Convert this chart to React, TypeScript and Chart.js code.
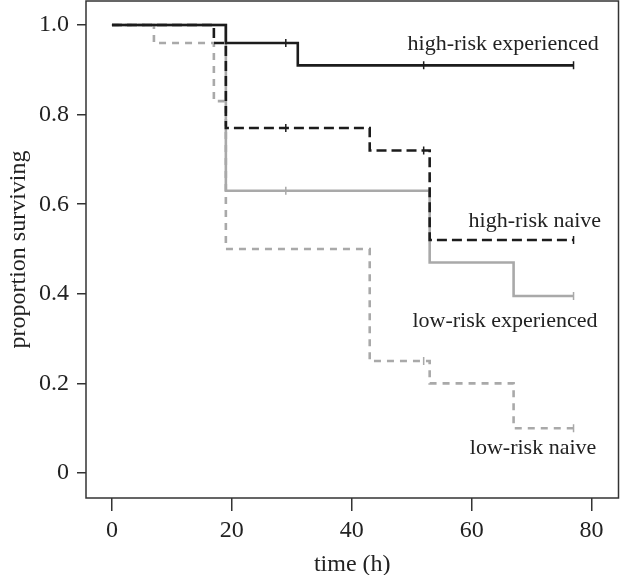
import React, { useEffect, useRef } from "react";
import { Chart, registerables } from "chart.js";

Chart.register(...registerables);

// ---- data ----
const heTimes = [0, 19, 31, 77];
const heSurv = [1.0, 0.96, 0.91, 0.91];
const heCensor = [29, 52, 77];

const hnTimes = [0, 17, 19, 43, 53, 77];
const hnSurv = [1.0, 0.96, 0.77, 0.72, 0.52, 0.52];
const hnCensor = [29, 52, 77];

const leTimes = [0, 19, 53, 67, 77];
const leSurv = [1.0, 0.63, 0.47, 0.395, 0.395];
const leCensor = [29, 77];

const lnTimes = [0, 7, 17, 19, 43, 53, 67, 77];
const lnSurv = [1.0, 0.96, 0.83, 0.5, 0.25, 0.2, 0.1, 0.1];
const lnCensor = [52, 77];

const xTickValues = [0, 20, 40, 60, 80];
const xTickLabels = ["0", "20", "40", "60", "80"];
const yTickValues = [0, 0.2, 0.4, 0.6, 0.8, 1.0];
const yTickLabels = ["0", "0.2", "0.4", "0.6", "0.8", "1.0"];

const seriesLabels = [
  "high-risk experienced",
  "high-risk naive",
  "low-risk experienced",
  "low-risk naive",
];
// annotation anchor points (data coordinates, right-aligned text)
const labelX = [81.2, 81.6, 81.0, 80.8];
const labelY = [0.958, 0.563, 0.338, 0.055];

const SERIF = "'Liberation Serif', 'DejaVu Serif', serif";
const BLACK = "#1c1c1c";
const GREY = "#a9a9a9";
const AXIS = "#333333";

function toPoints(times: number[], surv: number[]) {
  return times.map((t, i) => ({ x: t, y: surv[i] }));
}
function survAt(times: number[], surv: number[], t: number) {
  let v = surv[0];
  for (let i = 0; i < times.length; i++) if (times[i] <= t) v = surv[i];
  return v;
}
function censorPoints(times: number[], surv: number[], c: number[]) {
  return c.map((t) => ({ x: t, y: survAt(times, surv, t) }));
}

const boxPlugin = {
  id: "boxAndLabels",
  afterDatasetsDraw(chart: any) {
    const { ctx, chartArea, scales } = chart;
    ctx.save();
    ctx.strokeStyle = AXIS;
    ctx.lineWidth = 1.5;
    ctx.strokeRect(
      chartArea.left,
      chartArea.top,
      chartArea.right - chartArea.left,
      chartArea.bottom - chartArea.top
    );
    ctx.fillStyle = "#222";
    ctx.font = `22px ${SERIF}`;
    ctx.textAlign = "right";
    ctx.textBaseline = "middle";
    seriesLabels.forEach((s, i) => {
      ctx.fillText(s, scales.x.getPixelForValue(labelX[i]), scales.y.getPixelForValue(labelY[i]));
    });
    ctx.restore();
  },
};

export default function App() {
  const ref = useRef<HTMLCanvasElement | null>(null);
  useEffect(() => {
    document.body.style.margin = "0";
    if (!ref.current) return;
    const lineDs = (label: string, times: number[], surv: number[], color: string, dash: number[], order: number) => ({
      type: "line" as const,
      label,
      data: toPoints(times, surv),
      borderColor: color,
      borderWidth: 2.6,
      borderDash: dash,
      stepped: "before" as const,
      pointRadius: 0,
      fill: false,
      order,
    });
    const censorDs = (times: number[], surv: number[], c: number[], color: string, order: number) => ({
      type: "scatter" as const,
      data: censorPoints(times, surv, c),
      pointStyle: "line",
      rotation: 90,
      pointRadius: 4,
      pointBorderWidth: 1.5,
      borderColor: color,
      backgroundColor: color,
      showLine: false,
      order,
    });
    const chart = new Chart(ref.current, {
      type: "line",
      data: {
        datasets: [
          lineDs(seriesLabels[0], heTimes, heSurv, BLACK, [], 1),
          censorDs(heTimes, heSurv, heCensor, BLACK, 0),
          lineDs(seriesLabels[1], hnTimes, hnSurv, BLACK, [10, 5], 2),
          censorDs(hnTimes, hnSurv, hnCensor, BLACK, 0),
          lineDs(seriesLabels[2], leTimes, leSurv, GREY, [], 4),
          censorDs(leTimes, leSurv, leCensor, GREY, 3),
          lineDs(seriesLabels[3], lnTimes, lnSurv, GREY, [7, 6], 5),
          censorDs(lnTimes, lnSurv, lnCensor, GREY, 3),
        ] as any,
      },
      options: {
        animation: false,
        responsive: true,
        maintainAspectRatio: false,
        layout: { autoPadding: false, padding: { top: 1, right: 1.5, left: 0, bottom: 0 } },
        plugins: { legend: { display: false }, tooltip: { enabled: false } },
        scales: {
          x: {
            type: "linear",
            min: -4.33,
            max: 84.5,
            afterFit: (s: any) => {
              s.height = 77;
              s.paddingLeft = 0;
              s.paddingRight = 0;
            },
            afterBuildTicks: (s: any) => {
              s.ticks = xTickValues.map((v) => ({ value: v }));
            },
            ticks: {
              callback: (v: any) => xTickLabels[xTickValues.indexOf(Number(v))] ?? "",
              font: { family: SERIF, size: 24 },
              color: "#222",
              padding: 5,
              maxRotation: 0,
            },
            grid: { drawOnChartArea: false, drawTicks: true, tickLength: 13, color: AXIS, lineWidth: 1.5 },
            border: { display: false },
            title: {
              display: true,
              text: "time (h)",
              font: { family: SERIF, size: 24, lineHeight: 1 },
              color: "#222",
              padding: { top: 0, bottom: -2 },
            },
          },
          y: {
            type: "linear",
            min: -0.0558,
            max: 1.0536,
            afterFit: (s: any) => {
              s.width = 86;
              s.paddingTop = 0;
              s.paddingBottom = 0;
            },
            afterBuildTicks: (s: any) => {
              s.ticks = yTickValues.map((v) => ({ value: v }));
            },
            ticks: {
              callback: (v: any) => {
                const i = yTickValues.findIndex((t) => Math.abs(t - Number(v)) < 1e-6);
                return i >= 0 ? yTickLabels[i] : "";
              },
              font: { family: SERIF, size: 24 },
              color: "#222",
              padding: 8,
            },
            grid: { drawOnChartArea: false, drawTicks: true, tickLength: 9, color: AXIS, lineWidth: 1.5 },
            border: { display: false },
            title: {
              display: true,
              text: "proportion surviving",
              font: { family: SERIF, size: 24, lineHeight: 1.2 },
              color: "#222",
              padding: { top: 4, bottom: 0 },
            },
          },
        },
      },
      plugins: [boxPlugin],
    });
    return () => chart.destroy();
  }, []);
  return (
    <div style={{ position: "absolute", left: 0, top: 0, width: 620, height: 575 }}>
      <canvas ref={ref} />
    </div>
  );
}
